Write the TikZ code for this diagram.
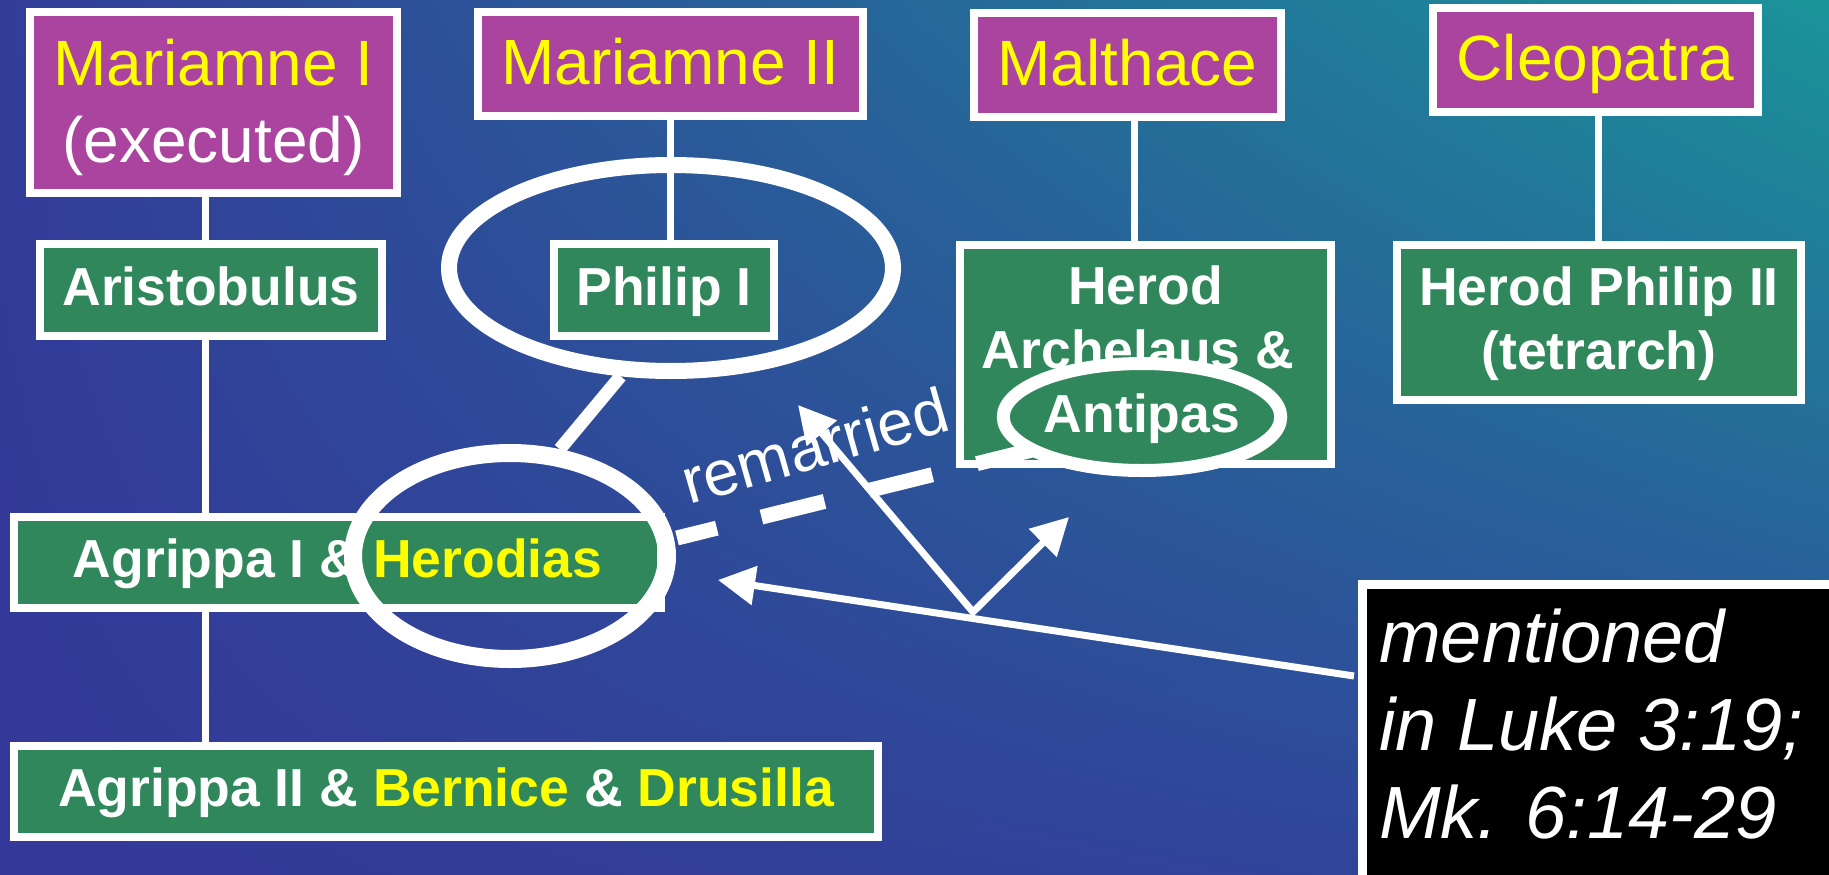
\documentclass[tikz,border=0pt]{standalone}
\usepackage{fontspec}
\setmainfont{Liberation Sans}
\usetikzlibrary{arrows.meta,shapes.geometric,shadings}
\definecolor{purp}{HTML}{AA449E}
\definecolor{grn}{HTML}{2F875B}
\definecolor{ylw}{HTML}{FFFF00}
\definecolor{bgA}{HTML}{323D99}
\definecolor{bgB}{HTML}{1A9499}
\definecolor{bgC}{HTML}{343899}
\definecolor{bgD}{HTML}{2F489A}
\begin{document}
\begin{tikzpicture}[x=1pt,y=-1pt,
  pbox/.style={draw=white,line width=8pt,fill=purp,inner sep=0pt,
    font=\fontsize{64}{77}\selectfont,text=ylw,text height=41pt,text depth=0pt},
  gbox/.style={draw=white,line width=8pt,fill=grn,inner sep=0pt,
    font=\bfseries\fontsize{53.5}{64}\selectfont,text=white,text height=30pt,text depth=0pt},
  ring/.style={ellipse,draw=white,inner sep=0pt},
  conn/.style={draw=white,line width=7pt},
  arr/.style={draw=white,line width=7pt,-{Triangle[length=37pt,width=38pt]}},
  arrtwo/.style={draw=white,line width=7pt,line join=miter,
    {Triangle[length=37pt,width=38pt]}-{Triangle[length=37pt,width=38pt]}},
]
\useasboundingbox (0,0) rectangle (1829,875);
\clip (0,0) rectangle (1829,875);
\shade[upper left=bgA,upper right=bgB,lower left=bgC,lower right=bgD] (0,0) rectangle (1829,875);

% mothers
\node[pbox,minimum width=367pt,minimum height=181pt,align=center,text height=119pt,text depth=0pt] (m1) at (213.5,102.5) {Mariamne I\\\textcolor{white}{(executed)}};
\node[pbox,minimum width=385pt,minimum height=104pt] (m2) at (670.5,64) {Mariamne II};
\node[pbox,minimum width=307pt,minimum height=104pt] (mal) at (1127.5,65) {Malthace};
\node[pbox,minimum width=325pt,minimum height=104pt] (cle) at (1595.5,60) {Cleopatra};

% sons
\node[gbox,minimum width=342pt,minimum height=92pt] (aris) at (211,290) {Aristobulus};
\node[gbox,minimum width=220pt,minimum height=92pt] (phil) at (664,290) {Philip I};
\node[gbox,minimum width=371pt,minimum height=219pt,align=center,text height=94pt,text depth=67pt] (arch) at (1145.5,354.5) {Herod\\Archelaus \&\hspace*{15pt}};
\node[gbox,minimum width=404pt,minimum height=155pt,align=center,text height=94pt,text depth=1pt] (phil2) at (1599,322.5) {Herod Philip II\\(tetrarch)};

% grandchildren
\node[gbox,minimum width=647pt,minimum height=91pt] (agr1) at (337.5,562.5) {Agrippa I \& \textcolor{ylw}{Herodias}};
\node[gbox,minimum width=864pt,minimum height=91pt] (agr2) at (446,791.5) {Agrippa II \& \textcolor{ylw}{Bernice} \& \textcolor{ylw}{Drusilla}};

% descent lines
\coordinate (colA) at (205,0);
\coordinate (colB) at (670,0);
\coordinate (colC) at (1134,0);
\coordinate (colD) at (1598,0);
\draw[conn] (colA |- m1.south) -- (colA |- aris.north);
\draw[conn] (colA |- aris.south) -- (colA |- agr1.north);
\draw[conn] (colA |- agr1.south) -- (colA |- agr2.north);
\draw[conn] (colB |- m2.south) -- (colB |- phil.north);
\draw[conn] (colC |- mal.south) -- (colC |- arch.north);
\draw[conn] (colD |- cle.south) -- (colD |- phil2.north);

% rings
\node[ring,line width=16pt,minimum width=444pt,minimum height=206pt] (phE) at (671,268) {};
\node[ring,line width=18pt,minimum width=314pt,minimum height=206pt] (herE) at (510,556) {};
\draw[white,line width=13pt] (phE.245) -- (herE.65);

% remarried dashed link
\coordinate (dA) at (677,538);
\coordinate (dB) at (1040,448);
\draw[white,line width=15pt,dash pattern=on 65pt off 46pt,dash phase=24pt] (dA) -- (dB);

\node[ring,fill=grn,line width=13pt,minimum width=274pt,minimum height=107pt,
  font=\bfseries\fontsize{53.5}{64}\selectfont,text=white,text height=30pt,text depth=0pt] (antE) at (1142,417) {Antipas};

\node[rotate=16,anchor=base west,inner sep=0pt,text=white,font=\fontsize{64}{70}\selectfont] (rem) at (689,505) {remarried};

% note box
\node[draw=white,line width=9pt,fill=black,minimum width=478pt,minimum height=302pt,anchor=north west,inner sep=0pt] (blk) at (1357.5,579.5) {};
\node[align=left,anchor=base west,inner sep=0pt,text=white,font=\itshape\fontsize{74}{88}\selectfont] (mtxt) at (1379,838) {mentioned\\in Luke 3:19;\\Mk. 6:14-29};

% arrows
\coordinate (mS) at (1354,676);
\coordinate (tipH) at (718,580);
\coordinate (J) at (973,612);
\coordinate (tipL) at (798,405);
\coordinate (tipR) at (1069,517);
\draw[arr] (mS) -- (tipH);
\draw[arrtwo] (tipL) -- (J) -- (tipR);
\end{tikzpicture}
\end{document}
